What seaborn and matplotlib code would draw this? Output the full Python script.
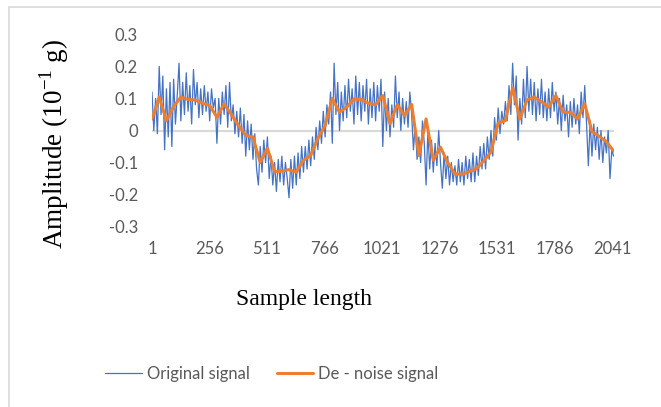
import numpy as np
import pandas as pd
import matplotlib
matplotlib.use("Agg")
import matplotlib.pyplot as plt
import seaborn as sns
from matplotlib.patches import Rectangle

# ---------------- data ----------------
n_samples = 2048
x_ticks = [1, 256, 511, 766, 1021, 1276, 1531, 1786, 2041]
y_ticks = [-0.3, -0.2, -0.1, 0, 0.1, 0.2, 0.3]
y_tick_labels = ["-0.3", "-0.2", "-0.1", "0", "0.1", "0.2", "0.3"]

# original (noisy) signal, read roughly every 8 samples
original = [
    0.12, 0.00, 0.10, -0.01,   0.20, 0.05, 0.17, -0.06,
    0.13, -0.02, 0.15, -0.05,  0.16, 0.02, 0.11, 0.21,
    0.03, 0.15, 0.05, 0.18,    0.06, 0.14, 0.02, 0.19,
    0.08, 0.15, 0.04, 0.13,    0.05, 0.14, 0.06, 0.12,
    0.03, 0.13, 0.07, 0.10,    -0.04, 0.10, 0.02, 0.12,
    0.05, 0.14, 0.01, 0.15,    0.03, 0.08, -0.01, 0.06,
    -0.02, 0.07, -0.04, 0.05,  -0.08, 0.03, -0.06, 0.02,
    -0.09, -0.01, -0.12, -0.17, -0.05, -0.13, -0.03, -0.10,
    -0.02, -0.15, -0.08, -0.17, -0.10, -0.19, -0.09, -0.16,
    -0.08, -0.17, -0.10, -0.15, -0.21, -0.09, -0.18, -0.08,
    -0.17, -0.07, -0.15, -0.05, -0.13, -0.05, -0.12, -0.03,
    -0.11, -0.02, -0.09, 0.01, -0.06, 0.03, -0.04, 0.06,
    -0.02, 0.08, 0.02, 0.12,   -0.04, 0.21, 0.05, 0.15,
    0.00, 0.12, 0.03, 0.14,    0.04, 0.16, 0.06, 0.13,
    0.02, 0.17, 0.05, 0.15,    0.03, 0.14, 0.06, 0.16,
    0.02, 0.13, 0.04, 0.15,    0.03, 0.14, 0.06, 0.16,
    -0.05, 0.12, 0.00, 0.10,   -0.02, 0.08, 0.01, 0.17,
    0.04, 0.12, 0.00, 0.10,    0.02, 0.09, 0.01, 0.12,
    0.05, -0.06, 0.02, -0.09,  -0.02, -0.10, 0.03, -0.04,
    -0.17, 0.00, -0.12, -0.03, -0.13, -0.04, -0.11, 0.00,
    -0.10, -0.18, -0.07, -0.15, -0.08, -0.17, -0.10, -0.16,
    -0.11, -0.17, -0.09, -0.16, -0.10, -0.17, -0.08, -0.15,
    -0.09, -0.16, -0.07, -0.16, -0.08, -0.14, -0.05, -0.12,
    -0.04, -0.12, -0.02, -0.09, 0.00, -0.08, 0.04, -0.03,
    0.07, -0.01, 0.06, 0.02,   0.09, 0.03, 0.14, 0.05,
    0.21, 0.08, 0.17, -0.03,   0.10, 0.02, 0.16, 0.04,
    0.20, 0.06, 0.16, 0.05,    0.15, 0.03, 0.13, 0.05,
    0.16, 0.04, 0.12, 0.03,    0.13, 0.04, 0.15, 0.06,
    0.12, 0.02, 0.10, 0.00,    0.11, 0.03, 0.08, -0.02,
    0.09, 0.01, 0.10, 0.02,    0.08, -0.01, 0.12, 0.04,
    0.14, 0.02, -0.11, 0.03,   -0.08, 0.02, -0.06, 0.01,
    -0.09, 0.00, -0.10, -0.02, -0.07, 0.00, -0.15, -0.06,
    -0.08,
]

# de-noised signal, vertices roughly every 32 samples
denoised = [
    0.036, 0.104, 0.030, 0.075, 0.104, 0.097, 0.095, 0.085,
    0.078, 0.041, 0.083, 0.050, 0.015, -0.015, -0.020, -0.100,
    -0.055, -0.128, -0.127, -0.122, -0.130, -0.093, -0.078, -0.025,
    0.015, 0.100, 0.057, 0.073, 0.098, 0.097, 0.085, 0.080,
    0.109, 0.021, 0.081, 0.047, 0.081, -0.078, 0.036, -0.093,
    -0.052, -0.100, -0.135, -0.137, -0.128, -0.119, -0.095, -0.067,
    0.023, 0.031, 0.133, 0.036, 0.095, 0.104, 0.090, 0.073,
    0.109, 0.057, 0.057, 0.036, 0.083, -0.003, -0.018, -0.035,
    -0.064,
]

df_orig = pd.DataFrame({"sample": np.linspace(1, n_samples, len(original)),
                        "amp": original})
df_den = pd.DataFrame({"sample": np.linspace(1, n_samples, len(denoised)),
                       "amp": denoised})

# ---------------- figure ----------------
sns.set_theme(style="white")
W, H = 661, 407
fig = plt.figure(figsize=(W / 100, H / 100), dpi=100)
ax = fig.add_axes([152 / W, 1 - 226.7 / H, (613.6 - 152) / W, (226.7 - 34.3) / H])

blue = "#4472C4"
orange = "#ED7D31"
gray = "#595959"

ax.axhline(0, color="#d9d9d9", lw=1.6, zorder=0)
sns.lineplot(data=df_orig, x="sample", y="amp", ax=ax, color=blue, lw=0.9,
             label="Original signal", zorder=2)
sns.lineplot(data=df_den, x="sample", y="amp", ax=ax, color=orange, lw=2.2,
             label="De - noise signal", zorder=3)

ax.set_xlim(1, n_samples)
ax.set_ylim(-0.3, 0.3)
ax.set_yticks(y_ticks)
ax.set_yticklabels(y_tick_labels)
ax.set_xticks(x_ticks)
ax.set_xticklabels([str(v) for v in x_ticks])
for s in ax.spines.values():
    s.set_visible(False)
ax.tick_params(axis="both", length=0, labelsize=12, labelcolor=gray)
ax.tick_params(axis="y", pad=10)
ax.tick_params(axis="x", pad=10)
for lab in ax.get_xticklabels() + ax.get_yticklabels():
    lab.set_fontfamily("Lato")

ax.set_xlabel("")
ax.set_ylabel("")
fig.text(304 / W, 1 - 300 / H, "Sample length", ha="center", va="center",
         family="Liberation Serif", fontsize=17, color="black")
fig.text(54 / W, 1 - 144 / H, r"Amplitude (10$^{\mathregular{-1}}$ g)",
         ha="center", va="center", rotation=90,
         family="Liberation Serif", fontsize=19.5, color="black")

ax.get_legend().remove()
handles, labels = ax.get_legend_handles_labels()
leg = fig.legend(handles, labels, loc="center", bbox_to_anchor=(272 / W, 1 - 374 / H),
                 ncol=2, frameon=False, handlelength=2.2, columnspacing=1.6,
                 handletextpad=0.3, prop={"family": "Lato", "size": 12})
for t in leg.get_texts():
    t.set_color(gray)

fig.patches.append(Rectangle((9 / W, -0.1), 1.2, (1 - 7 / H) + 0.1,
                             transform=fig.transFigure, fill=False,
                             edgecolor="#d9d9d9", lw=1.2))

fig.savefig("out.png", dpi=100)
